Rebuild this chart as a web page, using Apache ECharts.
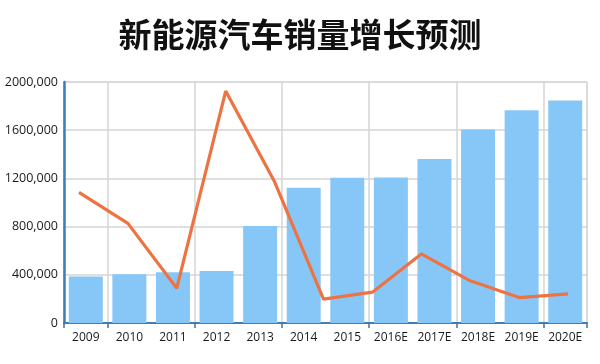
<!DOCTYPE html>
<html>
<head>
<meta charset="utf-8">
<script src="https://cdn.jsdelivr.net/npm/echarts@6/dist/echarts.min.js"></script>
<style>
html,body{margin:0;padding:0;background:#fff;}
#chart{width:600px;height:364px;}
</style>
</head>
<body>
<div id="chart"></div>
<script>
var titleText = '新能源汽车销量增长预测';
var categories = ['2009','2010','2011','2012','2013','2014','2015','2016E','2017E','2018E','2019E','2020E'];
var salesValues = [385000, 405000, 421000, 432000, 805000, 1122000, 1205000, 1208000, 1362000, 1606000, 1766000, 1846000];
var growthCategories = ['2010','2011','2012','2013','2014','2015','2016E','2017E','2018E','2019E','2020E'];
var growthValues = [1084000, 827000, 289000, 1925000, 1172000, 198000, 256000, 573000, 350000, 211000, 242000];
var yTicks = [0, 400000, 800000, 1200000, 1600000, 2000000];
var yTickLabels = ['0', '400,000', '800,000', '1200,000', '1600,000', '2000,000'];

var chart = echarts.init(document.getElementById('chart'), null, {renderer: 'canvas'});
var axisBlue = '#3f7db8';
chart.setOption({
  animation: false,
  backgroundColor: '#ffffff',
  title: {
    text: titleText,
    left: 'center',
    top: 13,
    textStyle: {
      fontFamily: 'Noto Sans CJK SC',
      fontWeight: 'bold',
      fontSize: 33,
      color: '#111111'
    }
  },
  grid: [
    {left: 64, right: 13, top: 82, bottom: 41, show: true, borderColor: '#d4d4d4', borderWidth: 1},
    {left: 79, right: 32, top: 82, bottom: 41}
  ],
  xAxis: [
    {
      type: 'category',
      gridIndex: 0,
      data: categories,
      boundaryGap: true,
      axisLine: {lineStyle: {color: axisBlue, width: 2}},
      axisTick: {show: true, length: 5, lineStyle: {color: '#4a6f95', width: 1.5},
        interval: function (i) { return i === 0 || i % 2 === 1; }},
      axisLabel: {color: '#1a1a1a', fontSize: 12, fontFamily: 'Open Sans', margin: 9, interval: 0},
      splitLine: {show: true, lineStyle: {color: '#d4d4d4', width: 1.5},
        interval: function (i) { return i === 0 || i % 2 === 1; }}
    },
    {
      type: 'category',
      gridIndex: 1,
      data: growthCategories,
      boundaryGap: false,
      show: false
    }
  ],
  yAxis: [
    {
      type: 'value',
      gridIndex: 0,
      min: yTicks[0],
      max: yTicks[yTicks.length - 1],
      interval: yTicks[1] - yTicks[0],
      axisLine: {show: true, lineStyle: {color: axisBlue, width: 2.5}},
      axisTick: {show: false},
      axisLabel: {
        color: '#1a1a1a', fontSize: 12.5, fontFamily: 'Open Sans', margin: 6,
        formatter: function (v) { var i = yTicks.indexOf(v); return i >= 0 ? yTickLabels[i] : ''; }
      },
      splitLine: {lineStyle: {color: '#d4d4d4', width: 1.5}}
    },
    {
      type: 'value',
      gridIndex: 1,
      min: yTicks[0],
      max: yTicks[yTicks.length - 1],
      show: false,
      splitLine: {show: false}
    }
  ],
  series: [
    {
      type: 'bar',
      xAxisIndex: 0,
      yAxisIndex: 0,
      data: salesValues,
      barCategoryGap: '22%',
      itemStyle: {color: '#87c7f7'}
    },
    {
      type: 'line',
      xAxisIndex: 1,
      yAxisIndex: 1,
      data: growthValues,
      symbol: 'none',
      lineStyle: {color: '#ee7343', width: 3.2},
      z: 5
    }
  ]
});
</script>
</body>
</html>
